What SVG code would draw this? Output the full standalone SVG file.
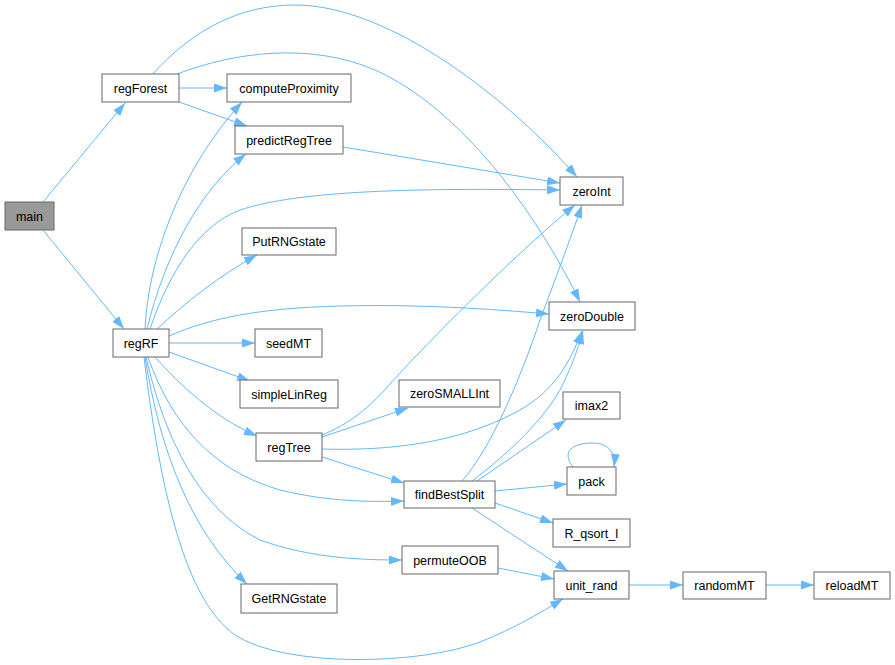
<svg xmlns="http://www.w3.org/2000/svg" width="895" height="665" viewBox="0 0 895 665">
<style>
.n rect{fill:#ffffff;stroke:#666666;stroke-width:1}
.n text{font-family:"Liberation Sans",Arial,sans-serif;font-size:12.5px;fill:#000000;text-anchor:middle}
#edges path{fill:none;stroke:#63b8ff;stroke-width:1;marker-end:url(#ah)}
</style>
<defs>
<marker id="ah" markerUnits="userSpaceOnUse" markerWidth="14" markerHeight="10" refX="13" refY="4.5" orient="auto">
<path d="M0,0 L13,4.5 L0,9 z" fill="#63b8ff" stroke="none"/>
</marker>
</defs>
<rect width="895" height="665" fill="#ffffff"/>
<g id="edges">
<path d="M43,202 L125,103"/>
<path d="M43,230 L124,329"/>
<path d="M179,88 L227,88"/>
<path d="M179,102 L247,126"/>
<path d="M153,74 C192,30 240,5 295,5 C390,5 510,100 577,177"/>
<path d="M177,74 C235,52 310,42 375,70 C460,108 535,210 580,302"/>
<path d="M343,147 L560,183"/>
<path d="M145,329 C148,260 180,170 242,102"/>
<path d="M147,329 C165,255 200,190 246,154"/>
<path d="M150,329 C170,270 200,225 240,210 C300,190 420,188 560,190"/>
<path d="M157,329 C185,303 220,275 257,255"/>
<path d="M169,336 C210,318 260,308 340,306 C420,304 490,309 549,314"/>
<path d="M169,343 L255,343"/>
<path d="M169,352 L250,381"/>
<path d="M155,357 C180,385 215,418 257,436"/>
<path d="M148,357 C170,420 210,470 280,490 C330,502 370,502 404,501"/>
<path d="M146,357 C165,440 200,510 260,540 C310,558 360,560 402,560"/>
<path d="M145,357 C160,450 190,530 247,584"/>
<path d="M144,357 C160,490 185,600 235,635 C285,668 420,665 480,642 C515,628 540,613 563,599"/>
<path d="M322,435 C360,420 380,395 400,373 C440,330 520,250 575,205"/>
<path d="M322,437 L408,408"/>
<path d="M322,449 C420,452 480,432 520,410 C555,390 570,362 582,331"/>
<path d="M322,457 L404,483"/>
<path d="M462,481 C490,450 520,380 540,320 C555,280 570,240 582,205"/>
<path d="M472,481 C500,460 540,425 560,390 C570,370 578,350 583,331"/>
<path d="M477,481 L566,420"/>
<path d="M495,491 L567,484"/>
<path d="M495,503 L553,523"/>
<path d="M472,508 L568,571"/>
<path d="M573,467 C560,450 575,443 592,443 C606,443 616,450 614,467"/>
<path d="M498,568 L554,579"/>
<path d="M629,585 L683,585"/>
<path d="M766,585 L814,585"/>
</g>
<g id="main" class="n"><rect x="5" y="202" width="49" height="28" style="fill:#999999"/><text x="29.5" y="220.5">main</text></g>
<g id="regForest" class="n"><rect x="102" y="74" width="77" height="28"/><text x="140.5" y="92.5">regForest</text></g>
<g id="computeProximity" class="n"><rect x="227" y="74" width="124" height="28"/><text x="289" y="92.5">computeProximity</text></g>
<g id="predictRegTree" class="n"><rect x="235" y="126" width="108" height="28"/><text x="289" y="144.5">predictRegTree</text></g>
<g id="zeroInt" class="n"><rect x="560" y="177" width="63" height="28"/><text x="591.5" y="195.5">zeroInt</text></g>
<g id="PutRNGstate" class="n"><rect x="242" y="228" width="94" height="27"/><text x="289" y="246">PutRNGstate</text></g>
<g id="zeroDouble" class="n"><rect x="549" y="302" width="86" height="28"/><text x="592" y="320.5">zeroDouble</text></g>
<g id="regRF" class="n"><rect x="113" y="329" width="56" height="28"/><text x="141" y="347.5">regRF</text></g>
<g id="seedMT" class="n"><rect x="255" y="329" width="67" height="28"/><text x="288.5" y="347.5">seedMT</text></g>
<g id="simpleLinReg" class="n"><rect x="240" y="380" width="98" height="28"/><text x="289" y="398.5">simpleLinReg</text></g>
<g id="zeroSMALLInt" class="n"><rect x="399" y="380" width="101" height="27"/><text x="449.5" y="398">zeroSMALLInt</text></g>
<g id="imax2" class="n"><rect x="563" y="392" width="57" height="27"/><text x="591.5" y="410">imax2</text></g>
<g id="regTree" class="n"><rect x="256" y="433" width="66" height="28"/><text x="289" y="451.5">regTree</text></g>
<g id="pack" class="n"><rect x="567" y="467" width="49" height="28"/><text x="591.5" y="485.5">pack</text></g>
<g id="findBestSplit" class="n"><rect x="404" y="481" width="91" height="27"/><text x="449.5" y="499">findBestSplit</text></g>
<g id="R_qsort_I" class="n"><rect x="553" y="519" width="77" height="28"/><text x="591.5" y="537.5">R_qsort_I</text></g>
<g id="permuteOOB" class="n"><rect x="402" y="546" width="96" height="28"/><text x="450" y="564.5">permuteOOB</text></g>
<g id="unit_rand" class="n"><rect x="554" y="571" width="75" height="28"/><text x="591.5" y="589.5">unit_rand</text></g>
<g id="randomMT" class="n"><rect x="683" y="572" width="83" height="27"/><text x="724.5" y="590">randomMT</text></g>
<g id="reloadMT" class="n"><rect x="814" y="572" width="76" height="27"/><text x="852" y="590">reloadMT</text></g>
<g id="GetRNGstate" class="n"><rect x="241" y="584" width="96" height="29"/><text x="289" y="603">GetRNGstate</text></g>
</svg>
